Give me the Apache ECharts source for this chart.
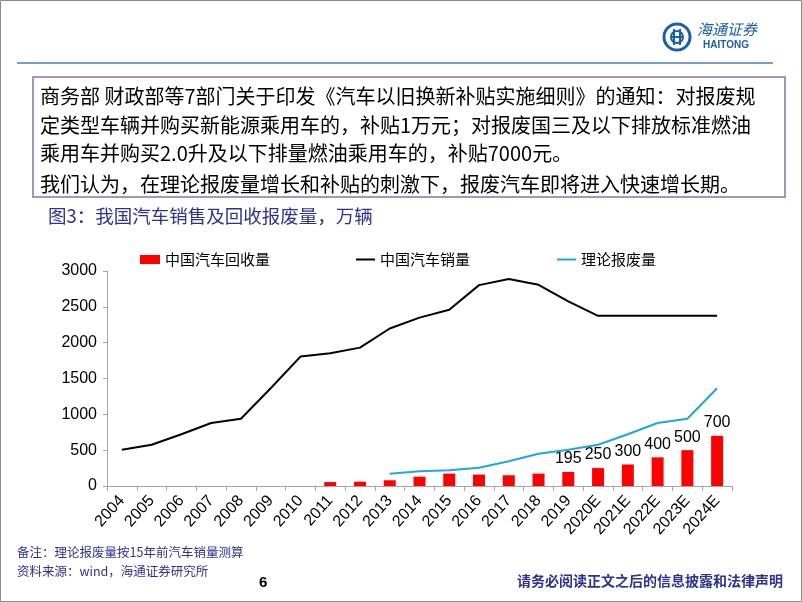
<!DOCTYPE html>
<html>
<head>
<meta charset="utf-8">
<script src="https://cdn.jsdelivr.net/npm/echarts@6/dist/echarts.min.js"></script>
<style>
html,body{margin:0;padding:0;background:#fff;}
#c{width:802px;height:602px;}
</style>
</head>
<body>
<div id="c"></div>
<script>
const years = ['2004','2005','2006','2007','2008','2009','2010','2011','2012','2013','2014','2015','2016','2017','2018','2019','2020E','2021E','2022E','2023E','2024E'];
const recovered = [null,null,null,null,null,null,null,55,60,80,130,173,159,150,173,195,250,300,400,500,700];
const sales = [507,576,722,879,938,1364,1806,1851,1931,2198,2349,2460,2803,2888,2808,2577,2375,2375,2375,2375,2375];
const theoretical = [null,null,null,null,null,null,null,null,null,170,205,220,255,345,450,507,576,722,879,938,1364];
const labelledYears = ['2019','2020E','2021E','2022E','2023E','2024E'];
const yTicks = {min:0, max:3000, interval:500};

const CJK = '"Noto Sans CJK SC", sans-serif';
const LAT = '"Liberation Sans", Arial, sans-serif';
const NAVY = '#2e3192';

const chart = echarts.init(document.getElementById('c'));

const barData = recovered.map((v, i) => ({
  value: v,
  label: { show: labelledYears.indexOf(years[i]) >= 0 }
}));

const boxLines = [
  '商务部 财政部等7部门关于印发《汽车以旧换新补贴实施细则》的通知：对报废规',
  '定类型车辆并购买新能源乘用车的，补贴1万元；对报废国三及以下排放标准燃油',
  '乘用车并购买2.0升及以下排量燃油乘用车的，补贴7000元。',
  '我们认为，在理论报废量增长和补贴的刺激下，报废汽车即将进入快速增长期。'
];
const boxY = [98, 127, 155, 186];

const graphics = [
  { type:'rect', shape:{x:0.5,y:0.5,width:801,height:601}, style:{fill:'none', stroke:'#8a8a8a', lineWidth:1}, silent:true },
  { type:'line', shape:{x1:17,y1:63,x2:773,y2:63}, style:{stroke:'#4a7ebb', lineWidth:1.5} },
  // logo emblem
  { type:'circle', shape:{cx:677,cy:37,r:13}, style:{fill:'none', stroke:'#1a5fa8', lineWidth:3} },
  { type:'circle', shape:{cx:677,cy:37,r:6}, style:{fill:'none', stroke:'#1a5fa8', lineWidth:2} },
  { type:'line', shape:{x1:671,y1:37,x2:683,y2:37}, style:{stroke:'#1a5fa8', lineWidth:2} },
  { type:'line', shape:{x1:674,y1:29,x2:674,y2:45}, style:{stroke:'#1a5fa8', lineWidth:2} },
  { type:'line', shape:{x1:680,y1:29,x2:680,y2:45}, style:{stroke:'#1a5fa8', lineWidth:2} },
  { type:'text', left:697, top:22, style:{text:'海通证券', font:'italic 15px ' + CJK, fill:'#1a5fa8'} },
  { type:'text', left:703, top:40, style:{text:'HAITONG', font:'bold 10px ' + LAT, fill:'#1a5fa8'} },
  // text box
  { type:'rect', shape:{x:33,y:77,width:752,height:120}, style:{fill:'#fff', stroke:'#7b7baa', lineWidth:1.5} },
  // title
  { type:'text', left:48, top:207, style:{text:'图3：我国汽车销售及回收报废量，万辆', font:'18.5px ' + CJK, fill:NAVY} },
  // footer
  { type:'text', left:17, top:546, style:{text:'备注：理论报废量按15年前汽车销量测算', font:'12.5px ' + CJK, fill:NAVY} },
  { type:'text', left:17, top:565, style:{text:'资料来源：wind，海通证券研究所', font:'12.5px ' + CJK, fill:NAVY} },
  { type:'text', left:259, top:575, style:{text:'6', font:'bold 15px ' + LAT, fill:'#000'} },
  { type:'text', right:19, top:574, style:{text:'请务必阅读正文之后的信息披露和法律声明', font:'bold 14px ' + CJK, fill:NAVY} }
];
boxLines.forEach((t, i) => {
  graphics.push({ type:'text', left:40, top:boxY[i]-12, style:{text:t, font:'20px ' + CJK, fill:'#000'} });
});

const legendText = { fontFamily: CJK, fontSize: 15, color: '#000' };

chart.setOption({
  animation: false,
  backgroundColor: '#fff',
  graphic: graphics,
  legend: [
    { data:['中国汽车回收量'], left:140, top:252, padding:0, icon:'rect', itemWidth:20, itemHeight:9, itemGap:4, textStyle:legendText, selectedMode:false },
    { data:['中国汽车销量'], left:356, top:252, padding:0, icon:'rect', itemWidth:19, itemHeight:2, textStyle:legendText, selectedMode:false },
    { data:['理论报废量'], left:557, top:252, padding:0, icon:'rect', itemWidth:19, itemHeight:2, textStyle:legendText, selectedMode:false }
  ],
  grid: { left:107, right:70, top:271, bottom:116, containLabel:false },
  xAxis: {
    type:'category',
    data: years,
    boundaryGap: true,
    axisLine: { show:true, lineStyle:{ color:'#a6a6a6', width:1 } },
    axisTick: { show:true, alignWithLabel:false, length:5, lineStyle:{ color:'#a6a6a6' } },
    axisLabel: { rotate:48, interval:0, fontFamily:LAT, fontSize:16, color:'#000', margin:12 }
  },
  yAxis: {
    type:'value',
    min: yTicks.min, max: yTicks.max, interval: yTicks.interval,
    axisLine: { show:true, lineStyle:{ color:'#a6a6a6', width:1 } },
    axisTick: { show:true, length:4, lineStyle:{ color:'#a6a6a6' } },
    splitLine: { show:false },
    axisLabel: { fontFamily:LAT, fontSize:16, color:'#000', margin:10, formatter: v => String(v) }
  },
  series: [
    {
      name:'中国汽车回收量', type:'bar', data: barData, barWidth:12,
      itemStyle:{ color:'#ff0000' },
      label:{ position:'top', distance:5, fontFamily:LAT, fontSize:16, color:'#000' }
    },
    {
      name:'中国汽车销量', type:'line', data: sales, symbol:'none',
      lineStyle:{ color:'#000', width:2 }, itemStyle:{ color:'#000' }
    },
    {
      name:'理论报废量', type:'line', data: theoretical, symbol:'none',
      lineStyle:{ color:'#1ea7e1', width:2 }, itemStyle:{ color:'#1ea7e1' }
    }
  ]
});
</script>
</body>
</html>
